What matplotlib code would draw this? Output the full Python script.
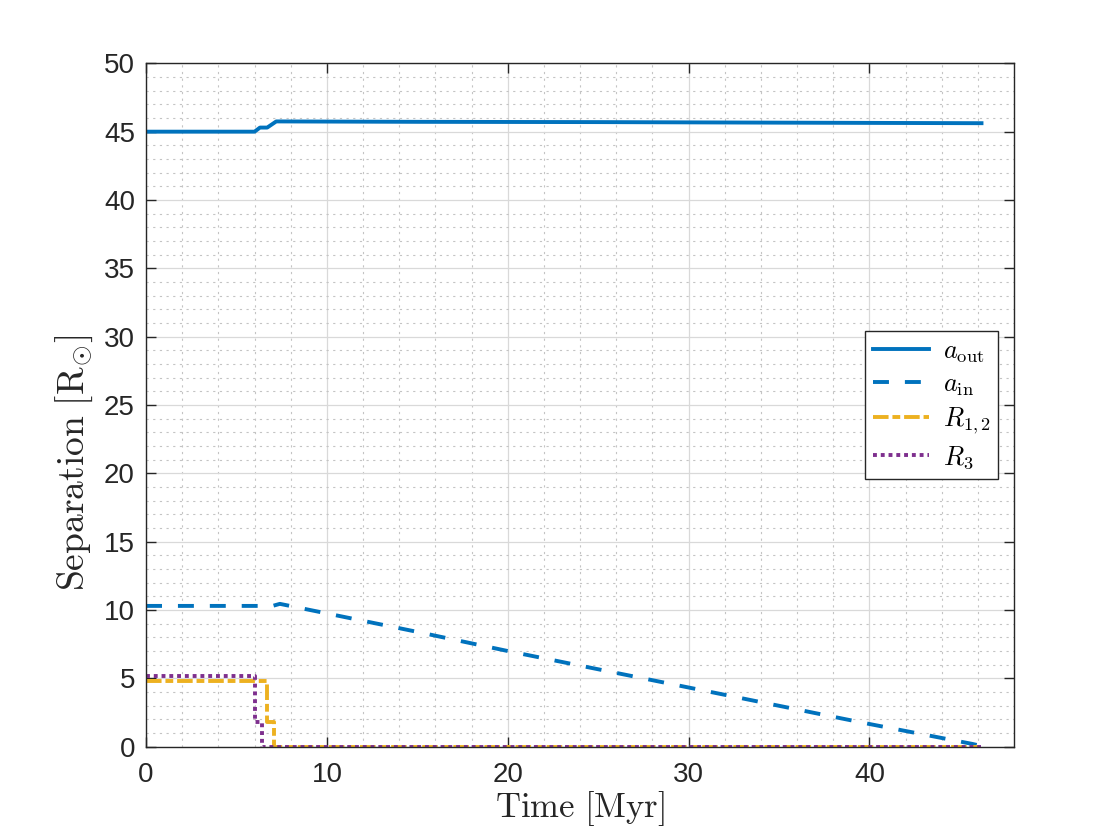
#!/usr/bin/env python3
"""Separation vs time for the triple: outer/inner orbits and stellar radii."""

import matplotlib
matplotlib.use("Agg")
import matplotlib.pyplot as plt
from matplotlib.ticker import MultipleLocator

# Data
t_out = [0.0, 3.0, 6.0, 6.3, 6.7, 7.2, 15.0, 25.0, 35.0, 46.2]
a_out = [45.0, 45.0, 45.0, 45.3, 45.3, 45.75, 45.72, 45.7, 45.66, 45.62]

t_in = [0.0, 7.0, 7.4, 10.0, 15.0, 20.0, 30.0, 38.6, 40.0, 45.7, 46.2]
a_in = [10.3, 10.3, 10.45, 9.75, 8.4, 7.0, 4.33, 2.03, 1.66, 0.2, 0.05]

t_r12 = [0.0, 6.7, 6.7, 7.05, 7.05, 46.2]
r12 = [4.8, 4.8, 1.8, 1.8, 0.0, 0.0]

t_r3 = [0.0, 6.05, 6.05, 6.4, 6.4, 46.2]
r3 = [5.2, 5.2, 1.8, 1.8, 0.0, 0.0]

BLUE = "#0072BD"
YELLOW = "#EDB120"
PURPLE = "#7E2F8E"
DARK = "#262626"

plt.rcParams["mathtext.fontset"] = "cm"
plt.rcParams["font.family"] = ["Liberation Sans", "DejaVu Sans"]

fig = plt.figure(figsize=(11.2, 8.4), dpi=100)
ax = fig.add_axes([0.1304, 0.1111, 0.7750, 0.8135])

lw = 2.8
ax.plot(t_out, a_out, color=BLUE, lw=lw, label=r"$a_{\mathrm{out}}$")
ax.plot(t_in, a_in, color=BLUE, lw=lw, dashes=(4.1, 4.1),
        label=r"$a_{\mathrm{in}}$")
ax.plot(t_r12, r12, color=YELLOW, lw=lw, dashes=(4.0, 1.0, 2.0, 1.0),
        label=r"$R_{1,2}$")
ax.plot(t_r3, r3, color=PURPLE, lw=lw, dashes=(1.0, 1.0),
        label=r"$R_3$")

ax.set_xlim(0, 48)
ax.set_ylim(0, 50)
ax.xaxis.set_major_locator(MultipleLocator(10))
ax.xaxis.set_minor_locator(MultipleLocator(2))
ax.yaxis.set_major_locator(MultipleLocator(5))
ax.yaxis.set_minor_locator(MultipleLocator(1))

# MATLAB-like grid
ax.grid(which="major", color="#d9d9d9", lw=0.9, ls="-")
ax.grid(which="minor", color="#c4c4c4", lw=0.8, ls=(0, (2, 4)))
ax.set_axisbelow(True)

ax.tick_params(which="major", direction="in", length=7, width=1.0,
               top=True, right=True, labelsize=20, colors=DARK)
ax.tick_params(axis="x", pad=11)
ax.tick_params(axis="y", pad=8)
ax.tick_params(which="minor", length=0)
for s in ax.spines.values():
    s.set_color(DARK)
    s.set_linewidth(1.0)

ax.set_xlabel(r"$\mathrm{Time\ [Myr]}$", fontsize=25, color=DARK, labelpad=1)
ax.set_ylabel(r"$\mathrm{Separation\ [R_{\odot}]}$", fontsize=27,
              color=DARK)
ax.yaxis.set_label_coords(-0.059, 0.415)

leg = ax.legend(loc="upper right", bbox_to_anchor=(0.982, 0.608),
                borderaxespad=0, fontsize=19, handlelength=2.15,
                handletextpad=0.5, labelspacing=0.3, fancybox=False,
                framealpha=1, edgecolor=DARK, borderpad=0.3)
leg.get_frame().set_linewidth(1.0)

fig.savefig("out.png", dpi=100)
